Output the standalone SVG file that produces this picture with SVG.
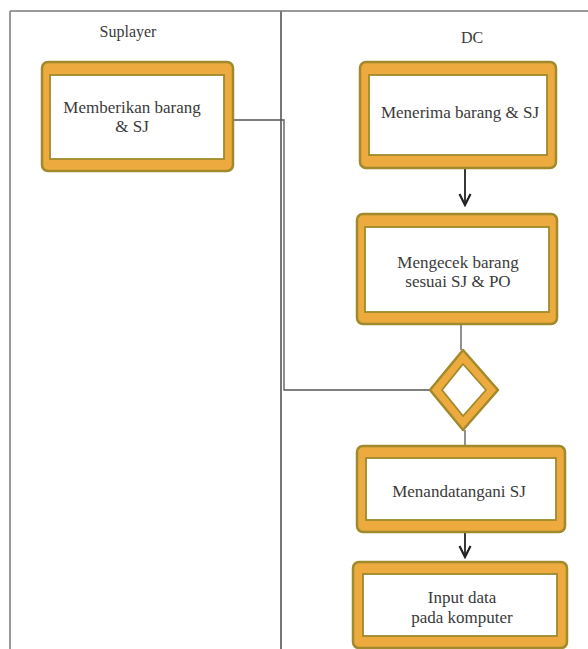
<svg xmlns="http://www.w3.org/2000/svg" width="588" height="649" viewBox="0 0 588 649">
<style>
.outer{fill:#EDAA3E;stroke:#A08A2C;stroke-width:2.5}
.inner{fill:#FFFFFF;stroke:#A08A2C;stroke-width:1.8}
.lbl{font-family:"Liberation Serif",serif;font-size:17px;fill:#3a3a3a;text-anchor:middle}
.lane{font-family:"Liberation Serif",serif;font-size:16px;fill:#3a3a3a;text-anchor:middle}
.edge{fill:none;stroke:#555;stroke-width:1.3}
.flow{fill:none;stroke:#222;stroke-width:1.8}
.frame{fill:none;stroke:#999;stroke-width:2}
</style>
<defs>
<marker id="arr" markerWidth="14" markerHeight="14" refX="12" refY="7" orient="auto" markerUnits="userSpaceOnUse" viewBox="0 0 14 14">
<path d="M1,1.5 L12,7 L1,12.5" fill="none" stroke="#222" stroke-width="2.2"/>
</marker>
</defs>
<rect width="588" height="649" fill="#FFFFFF"/>
<g id="lanes">
<line class="frame" x1="10" y1="11" x2="588" y2="11"/>
<line class="frame" x1="10" y1="11" x2="10" y2="649"/>
<line x1="281" y1="11" x2="281" y2="649" stroke="#777" stroke-width="2"/>
<text class="lane" x="128" y="37">Suplayer</text>
<text class="lane" x="472" y="43">DC</text>
</g>
<g id="connectors">
<polyline class="edge" points="233,120 284,120 284,390 431,390"/>
<line class="flow" x1="465" y1="168" x2="465" y2="205" marker-end="url(#arr)"/>
<line class="edge" x1="461" y1="324" x2="461" y2="350"/>
<line class="edge" x1="465" y1="430" x2="465" y2="446"/>
<line class="flow" x1="465" y1="532" x2="465" y2="557" marker-end="url(#arr)"/>
</g>
<g id="n1">
<rect class="outer" x="42" y="62" width="191" height="109" rx="6"/>
<rect class="inner" x="50" y="75" width="174" height="84"/>
<text class="lbl" x="132" y="113">Memberikan barang</text>
<text class="lbl" x="132" y="132">&amp; SJ</text>
</g>
<g id="n2">
<rect class="outer" x="360" y="62" width="196" height="106" rx="6"/>
<rect class="inner" x="369" y="75" width="178" height="80"/>
<text class="lbl" x="460" y="118">Menerima barang &amp; SJ</text>
</g>
<g id="n3">
<rect class="outer" x="357" y="214" width="200" height="110" rx="6"/>
<rect class="inner" x="365" y="227" width="184" height="85"/>
<text class="lbl" x="458" y="268">Mengecek barang</text>
<text class="lbl" x="458" y="287">sesuai SJ &amp; PO</text>
</g>
<g id="decision">
<path d="M463,350 L498,390 L463,430 L430,390 Z" fill="#EDAA3E" stroke="#A08A2C" stroke-width="2.5" stroke-linejoin="round"/>
<path d="M463,364 L486,390 L463,416 L442,390 Z" fill="#FFFFFF" stroke="#A08A2C" stroke-width="1.8" stroke-linejoin="round"/>
</g>
<g id="n4">
<rect class="outer" x="357" y="446" width="208" height="86" rx="6"/>
<rect class="inner" x="366" y="458" width="190" height="62"/>
<text class="lbl" x="459" y="497">Menandatangani SJ</text>
</g>
<g id="n5">
<rect class="outer" x="353" y="562" width="214" height="86" rx="6"/>
<rect class="inner" x="363" y="574" width="194" height="62"/>
<text class="lbl" x="462" y="603">Input data</text>
<text class="lbl" x="462" y="623">pada komputer</text>
</g>
</svg>
